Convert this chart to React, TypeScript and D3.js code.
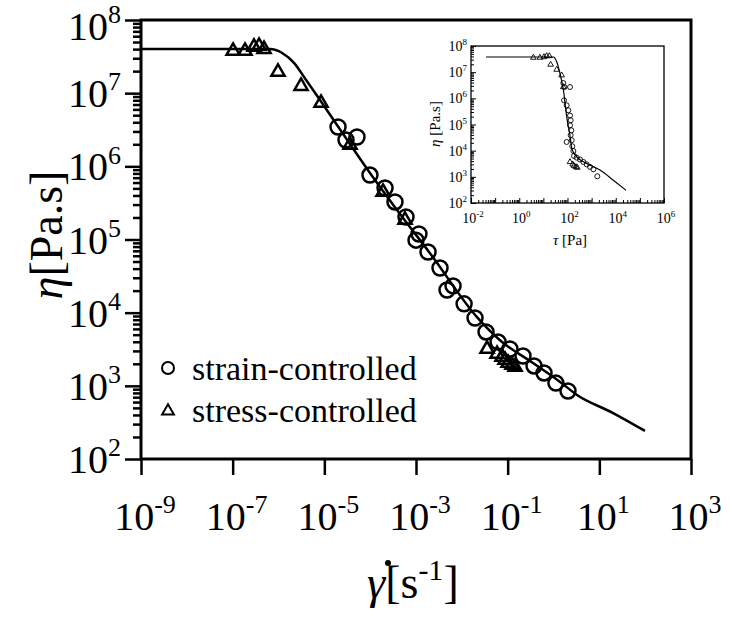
import React, { useEffect, useRef } from 'react';
import * as d3 from 'd3';

// main plot: shear rate (1/s) vs viscosity (Pa.s)
const strainRate = [1.99e-5, 2.97e-5, 5.16e-5, 9.9e-5, 2.11e-4, 3.48e-4, 6.05e-4, 1.16e-3, 1.0e-3, 1.83e-3, 3.34e-3, 4.75e-3, 6.43e-3, 0.0112, 0.0194, 0.0337, 0.0617, 0.112, 0.216, 0.376, 0.621, 1.13, 2.07];
const strainEta = [3.45e6, 2.29e6, 2.52e6, 7.6e5, 5.06e5, 3.26e5, 2.03e5, 1.19e5, 9.8e4, 6.75e4, 4.08e4, 2.04e4, 2.32e4, 1.32e4, 8.45e3, 5.45e3, 3.97e3, 3.19e3, 2.56e3, 1.87e3, 1.5e3, 1.09e3, 849];

const stressRate = [1.02e-7, 1.86e-7, 2.92e-7, 3.76e-7, 4.83e-7, 9.75e-7, 3.1e-6, 8.47e-6, 3.63e-5, 1.91e-4, 5.75e-4, 0.0355, 0.0586, 0.0753, 0.0875, 0.102, 0.124, 0.145];
const stressEta = [3.77e7, 3.77e7, 4.28e7, 4.41e7, 4.0e7, 1.95e7, 1.25e7, 7.34e6, 1.96e6, 4.46e5, 1.85e5, 3.19e3, 2.72e3, 2.48e3, 2.25e3, 2.05e3, 1.93e3, 1.81e3];

const modelRate = [1e-9, 6.5e-7, 1.2e-6, 2.2e-6, 4.0e-6, 8.05e-6, 1.89e-5, 9.9e-5, 3.85e-4, 2.02e-3, 0.0214, 0.068, 0.357, 1.39, 3.26, 20, 99];
const modelEta = [4.0e7, 4.0e7, 3.54e7, 2.58e7, 1.51e7, 8.07e6, 3.67e6, 8.1e5, 2.53e5, 6.5e4, 8.7e3, 4.2e3, 2.05e3, 1.13e3, 750, 425, 242];

// inset: shear stress (Pa) vs viscosity
const insetStrainTau = [67, 74, 127, 72, 92, 108, 127, 135, 127, 144, 135, 92, 149, 158, 175, 186, 240, 330, 453, 624, 857, 1180, 1720];
const insetStrainEta = [3.86e6, 2.7e6, 2.7e6, 8.4e5, 5.4e5, 3.5e5, 2.2e5, 1.45e5, 9.3e4, 6.0e4, 3.9e4, 2.15e4, 2.5e4, 1.47e4, 9.7e3, 6.3e3, 5.4e3, 4.6e3, 3.7e3, 3.0e3, 2.4e3, 1.94e3, 1.05e3];
const insetStressTau = [3.83, 7.2, 10.6, 13.7, 17.7, 20, 35.6, 57, 67, 127, 164, 186, 225, 255];
const insetStressEta = [3.6e7, 3.6e7, 3.8e7, 4.15e7, 4.15e7, 1.95e7, 1.25e7, 7.6e6, 2.7e6, 3.7e3, 3.0e3, 2.6e3, 2.38e3, 2.25e3];
const insetModelTau = [0.042, 26, 36, 49, 68, 93, 129, 151, 245, 631, 2240, 7940, 26300];
const insetModelEta = [3.8e7, 3.8e7, 2.45e7, 8.9e6, 2.04e6, 1.95e5, 3.4e4, 1.2e4, 5.75e3, 3.24e3, 1.82e3, 741, 309];

const yExps = [2, 3, 4, 5, 6, 7, 8];
const xExps = [-9, -7, -5, -3, -1, 1, 3];
const insetXExps = [-2, 0, 2, 4, 6];
const legendLabels = ['strain-controlled', 'stress-controlled'];

const FONT = "'Liberation Serif', 'Times New Roman', Times, serif";

function minorTicks(lo: number, hi: number) {
  const out: number[] = [];
  for (let e = lo; e < hi; e++) for (let m = 2; m <= 9; m++) out.push(m * 10 ** e);
  return out;
}

function powLabel(g: any, x: number, y: number, exp: number, size: number, supSize: number, anchor: string) {
  const t = g.append('text')
    .attr('x', x).attr('y', y)
    .attr('text-anchor', anchor)
    .style('font-family', FONT)
    .attr('font-size', size);
  t.append('tspan').text('10');
  t.append('tspan').attr('font-size', supSize).attr('dy', -size * 0.42).text(String(exp));
}

const App: React.FC = () => {
  const ref = useRef<SVGSVGElement | null>(null);

  useEffect(() => {
    if (!ref.current) return;
    const svg = d3.select(ref.current);
    svg.selectAll('*').remove();

    // ---------- main plot ----------
    const x = d3.scaleLog().domain([1e-9, 1e3]).range([141, 691]);
    const y = d3.scaleLog().domain([1e2, 1e8]).range([459, 20]);

    const ax = svg.append('g');
    ax.append('g').attr('transform', `translate(${x.range()[0]},0)`)
      .call(d3.axisLeft(y).tickValues(minorTicks(2, 8)).tickSize(8).tickFormat(() => ''));
    ax.append('g').attr('transform', `translate(${x.range()[0]},0)`)
      .call(d3.axisLeft(y).tickValues(yExps.map((e) => 10 ** e)).tickSize(16).tickFormat(() => ''));
    ax.append('g').attr('transform', `translate(0,${y.range()[0]})`)
      .call(d3.axisBottom(x).tickValues(xExps.map((e) => 10 ** e)).tickSize(16).tickFormat(() => ''));
    ax.selectAll('.domain').remove();
    ax.selectAll('line').attr('stroke', '#000').attr('stroke-width', 2.5);

    svg.append('rect')
      .attr('x', x.range()[0]).attr('y', y.range()[1])
      .attr('width', x.range()[1] - x.range()[0]).attr('height', y.range()[0] - y.range()[1])
      .attr('fill', 'none').attr('stroke', '#000').attr('stroke-width', 3);

    yExps.forEach((e) => powLabel(svg, 121, y(10 ** e) + (e === 8 ? 20 : 14), e, 40, 26, 'end'));
    xExps.forEach((e) => powLabel(svg, x(10 ** e) + 4, 530, e, 40, 26, 'middle'));

    // axis titles
    const yt = svg.append('text')
      .attr('transform', `translate(62,235) rotate(-90)`)
      .attr('text-anchor', 'middle')
      .style('font-family', FONT).attr('font-size', 46);
    yt.append('tspan').attr('font-style', 'italic').text('η');
    yt.append('tspan').text('[Pa.s]');

    const xt = svg.append('text')
      .attr('x', 367).attr('y', 598)
      .style('font-family', FONT).attr('font-size', 46);
    xt.append('tspan').attr('font-style', 'italic').text('γ');
    xt.append('tspan').text('[s');
    xt.append('tspan').attr('font-size', 30).attr('dy', -18).text('-1');
    xt.append('tspan').attr('dy', 18).text(']');
    // dot over gamma
    svg.append('circle').attr('cx', 388).attr('cy', 563).attr('r', 3).attr('fill', '#000');

    // model curve
    const line = d3.line<number>()
      .x((d) => x(d))
      .y((_, i) => y(modelEta[i]))
      .curve(d3.curveMonotoneX);
    svg.append('path').datum(modelRate)
      .attr('d', line).attr('fill', 'none').attr('stroke', '#000').attr('stroke-width', 2.5);

    const tri = d3.symbol().type(d3.symbolTriangle);

    svg.append('g').selectAll('path')
      .data(stressRate).enter().append('path')
      .attr('d', tri.size(75)())
      .attr('transform', (d, i) => `translate(${x(d)},${y(stressEta[i])})`)
      .attr('fill', 'none').attr('stroke', '#000').attr('stroke-width', 2.5);

    svg.append('g').selectAll('circle')
      .data(strainRate).enter().append('circle')
      .attr('cx', (d) => x(d)).attr('cy', (_, i) => y(strainEta[i]))
      .attr('r', 7.5)
      .attr('fill', 'none').attr('stroke', '#000').attr('stroke-width', 2.5);

    // legend
    const lg = svg.append('g');
    lg.append('circle').attr('cx', 168).attr('cy', 368).attr('r', 6)
      .attr('fill', 'none').attr('stroke', '#000').attr('stroke-width', 2);
    lg.append('path').attr('d', tri.size(60)()).attr('transform', 'translate(168,411)')
      .attr('fill', 'none').attr('stroke', '#000').attr('stroke-width', 2);
    legendLabels.forEach((l, i) => {
      lg.append('text').attr('x', 192).attr('y', 380 + i * 42)
        .style('font-family', FONT).attr('font-size', 34).text(l);
    });

    // ---------- inset ----------
    const ix = d3.scaleLog().domain([1e-2, 1e6]).range([471, 664]);
    const iy = d3.scaleLog().domain([1e2, 1e8]).range([203, 46]);
    const ins = svg.append('g');
    ins.append('rect')
      .attr('x', ix.range()[0]).attr('y', iy.range()[1])
      .attr('width', ix.range()[1] - ix.range()[0]).attr('height', iy.range()[0] - iy.range()[1])
      .attr('fill', '#fff').attr('stroke', '#000').attr('stroke-width', 1.3);

    const iax = ins.append('g');
    iax.append('g').attr('transform', `translate(${ix.range()[0]},0)`)
      .call(d3.axisRight(iy).tickValues(minorTicks(2, 8)).tickSize(3).tickFormat(() => ''));
    iax.append('g').attr('transform', `translate(${ix.range()[0]},0)`)
      .call(d3.axisRight(iy).tickValues(yExps.map((e) => 10 ** e)).tickSize(5).tickFormat(() => ''));
    iax.append('g').attr('transform', `translate(0,${iy.range()[0]})`)
      .call(d3.axisTop(ix).tickValues(minorTicks(-2, 6)).tickSize(3).tickFormat(() => ''));
    iax.append('g').attr('transform', `translate(0,${iy.range()[0]})`)
      .call(d3.axisTop(ix).tickValues(d3.range(-2, 7).map((e) => 10 ** e)).tickSize(5).tickFormat(() => ''));
    iax.selectAll('.domain').remove();
    iax.selectAll('line').attr('stroke', '#000').attr('stroke-width', 1);

    yExps.forEach((e) => powLabel(ins, 467, iy(10 ** e) + 5, e, 14, 9, 'end'));
    insetXExps.forEach((e) => powLabel(ins, ix(10 ** e) + 2, 223, e, 14, 9, 'middle'));

    const iyt = ins.append('text')
      .attr('transform', `translate(440,124) rotate(-90)`)
      .attr('text-anchor', 'middle')
      .style('font-family', FONT).attr('font-size', 15);
    iyt.append('tspan').attr('font-style', 'italic').text('η');
    iyt.append('tspan').text(' [Pa.s]');

    const ixt = ins.append('text')
      .attr('x', 570).attr('y', 245)
      .attr('text-anchor', 'middle')
      .style('font-family', FONT).attr('font-size', 15);
    ixt.append('tspan').attr('font-style', 'italic').text('τ');
    ixt.append('tspan').text(' [Pa]');

    const iline = d3.line<number>()
      .x((d) => ix(d))
      .y((_, i) => iy(insetModelEta[i]))
      .curve(d3.curveMonotoneX);
    ins.append('path').datum(insetModelTau)
      .attr('d', iline).attr('fill', 'none').attr('stroke', '#000').attr('stroke-width', 1.2);

    ins.append('g').selectAll('path')
      .data(insetStressTau).enter().append('path')
      .attr('d', tri.size(14)())
      .attr('transform', (d, i) => `translate(${ix(d)},${iy(insetStressEta[i])})`)
      .attr('fill', 'none').attr('stroke', '#000').attr('stroke-width', 0.9);

    ins.append('g').selectAll('circle')
      .data(insetStrainTau).enter().append('circle')
      .attr('cx', (d) => ix(d)).attr('cy', (_, i) => iy(insetStrainEta[i]))
      .attr('r', 2.5)
      .attr('fill', 'none').attr('stroke', '#000').attr('stroke-width', 0.9);
  }, []);

  return (
    <svg ref={ref} width={730} height={621}
      style={{ position: 'absolute', left: 0, top: 0, background: '#fff', fontFamily: FONT }} />
  );
};

export default App;
